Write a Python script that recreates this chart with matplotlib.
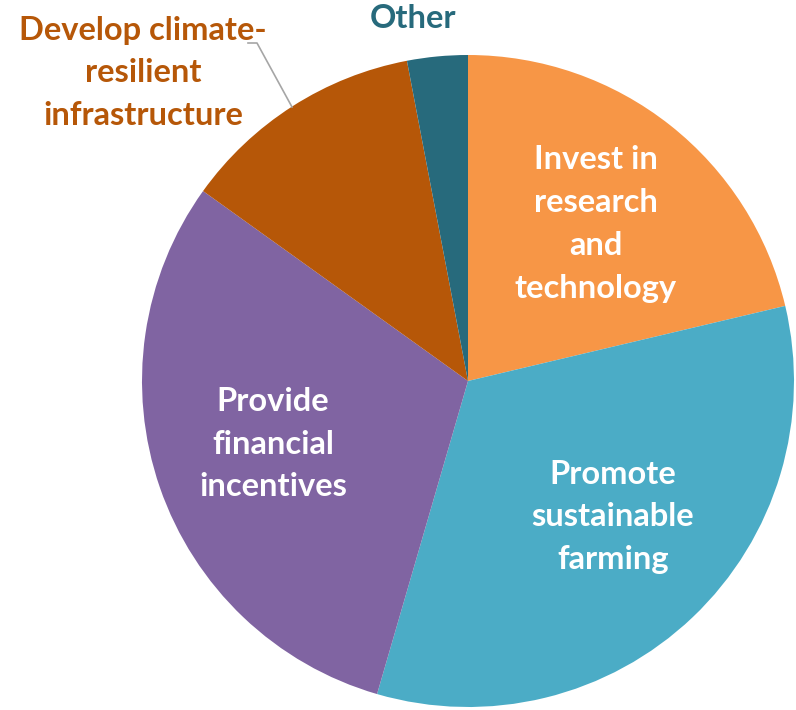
import matplotlib
matplotlib.use("Agg")
import matplotlib.pyplot as plt

categories = ["Invest in\nresearch\nand\ntechnology", "Promote\nsustainable\nfarming",
              "Provide\nfinancial\nincentives", "Develop climate-\nresilient\ninfrastructure", "Other"]
values = [21.3, 33.2, 30.4, 12.1, 3.0]
colors = ["#F79646", "#4BACC6", "#8064A2", "#B65708", "#276A7C"]

W, H = 796, 710
fig = plt.figure(figsize=(W / 100, H / 100), dpi=100)
ax = fig.add_axes([0, 0, 1, 1])

cx, cy, r = 468, H - 381, 326
ax.pie(values, colors=colors, startangle=90, counterclock=False,
       center=(cx, cy), radius=r, frame=True,
       wedgeprops=dict(linewidth=0))
ax.set_xlim(0, W)
ax.set_ylim(0, H)
ax.set_aspect("equal")
ax.axis("off")

font = dict(family=["Lato", "DejaVu Sans"], fontweight="bold", fontsize=23.5,
            ha="center", va="center", linespacing=1.58)
inside_pos = [(596, 224), (613, 517), (273, 444)]
for (x, y), lab in zip(inside_pos, categories[:3]):
    ax.text(x, H - y, lab, color="white", **font)

ax.text(143, H - 73, categories[3], color=colors[3], **font)
ax.text(413, H - 19, categories[4], color=colors[4], **font)

# leader line
ax.plot([248, 257, 292], [H - 43, H - 43, H - 107], color="#A6A6A6", lw=1.2)

fig.savefig("out.png", dpi=100)
